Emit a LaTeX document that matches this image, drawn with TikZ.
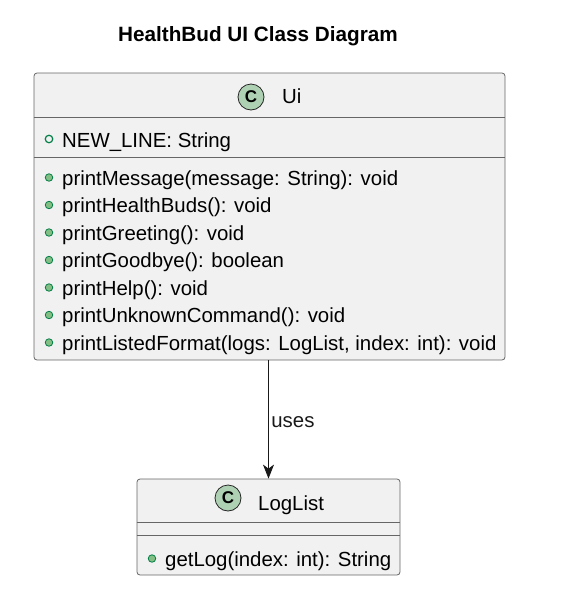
\documentclass[tikz,border=0pt]{standalone}
\usepackage{fontspec}
\setmainfont{Liberation Sans}
\usetikzlibrary{arrows.meta,positioning}
\definecolor{boxfill}{HTML}{F1F1F1}
\definecolor{boxline}{HTML}{666666}
\definecolor{iconfill}{HTML}{ADD1B2}
\definecolor{dotfill}{HTML}{84BE84}
\definecolor{dotline}{HTML}{038048}
\tikzset{
  basic/.style    = {draw=boxline, line width=0.8pt, inner sep=0pt},
  classbox/.style = {basic, rectangle, rounded corners=3pt, fill=boxfill},
  classicon/.style = {basic, circle, fill=iconfill, draw=black!85, minimum size=26pt,
                     font=\fontsize{17}{20}\selectfont\bfseries},
  member/.style   = {inner sep=0pt, anchor=base west, font=\fontsize{20.4}{24}\selectfont},
  pubdot/.style   = {circle, draw=dotline, fill=dotfill, line width=0.8pt,
                     minimum size=7.5pt, inner sep=0pt},
  pubfield/.style = {pubdot, fill=none, line width=1.2pt},
  divider/.style  = {draw=boxline, line width=0.8pt}
}

\begin{document}
\begin{tikzpicture}[x=1pt, y=-1pt,
  >={Stealth[length=14pt, width=11pt, inset=4pt]}]
\useasboundingbox (0,0) rectangle (579,590);

% titulo
\node[member, anchor=base, font=\fontsize{20.7}{24}\selectfont\bfseries] (title)
  at (258,41) {HealthBud UI Class Diagram};

% clase Ui
\node[classbox, minimum width=471pt, minimum height=287pt] (ui) at (269.5,216.5) {};
\draw[divider] (ui.west |- 0,117) -- (ui.east |- 0,117);
\draw[divider] (ui.west |- 0,157) -- (ui.east |- 0,157);
\node[classicon] (uiicon) at (251,97) {C};
\node[member] (uiname) at (282,103.3) {Ui};

\node[pubfield] (a1dot) at (49,139) {};
\node[member] (a1) at (62,147.3) {NEW\_LINE: String};

\foreach \txt [count=\i] in {printMessage(message: String): void,
    printHealthBuds(): void, printGreeting(): void, printGoodbye(): boolean,
    printHelp(): void, printUnknownCommand(): void,
    {printListedFormat(logs: LogList, index: int): void}} {
  \node[pubdot] (d\i) at (49,{177.5+27.5*(\i-1)}) {};
  \node[member] (m\i) at (62,{185+27.5*(\i-1)}) {\txt};
}

% clase LogList
\node[classbox, minimum width=263pt, minimum height=96pt] (loglist) at (268.5,527) {};
\draw[divider] (loglist.west |- 0,522) -- (loglist.east |- 0,522);
\draw[divider] (loglist.west |- 0,535) -- (loglist.east |- 0,535);
\node[classicon] (llicon) at (228,498) {C};
\node[member] (llname) at (258,510) {LogList};

\node[pubdot] (l1dot) at (152,558.5) {};
\node[member] (l1) at (165,566.5) {getLog(index: int): String};

% relacion
\draw[->, line width=0.8pt, black!90] (loglist.north |- ui.south) -- (loglist.north)
  node[pos=0.571, anchor=base west, inner sep=0pt, xshift=2.5pt,
       font=\fontsize{20.4}{24}\selectfont] (uses) {uses};
\end{tikzpicture}
\end{document}
